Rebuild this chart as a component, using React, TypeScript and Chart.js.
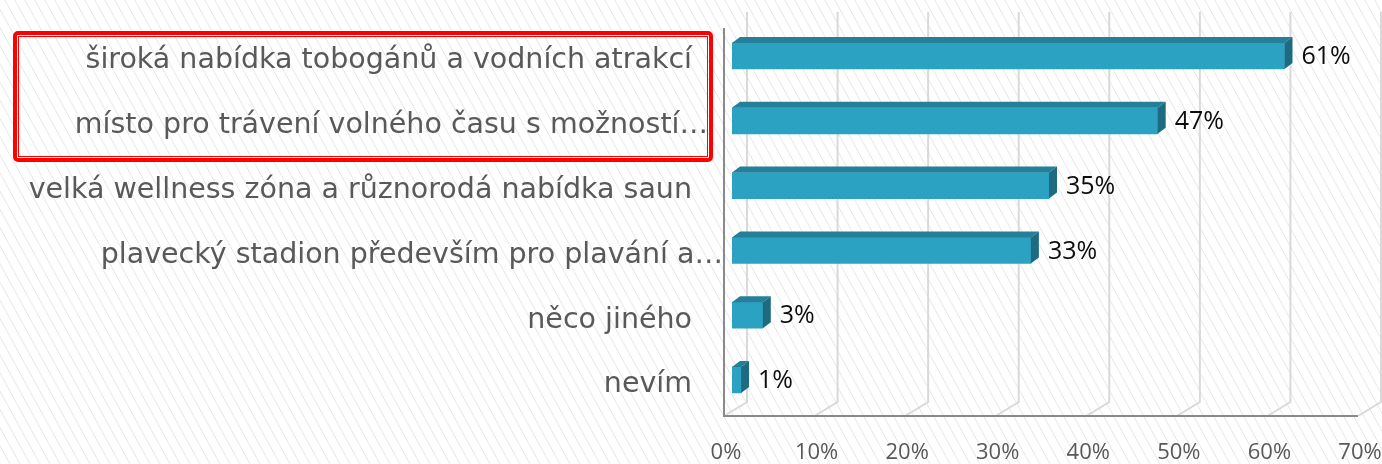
import React, { useEffect, useRef } from "react";
import { Chart, registerables } from "chart.js";

Chart.register(...registerables);

const categories: string[] = [
  "široká nabídka tobogánů a vodních atrakcí",
  "místo pro trávení volného času s možností…",
  "velká wellness zóna a různorodá nabídka saun",
  "plavecký stadion především pro plavání a…",
  "něco jiného",
  "nevím",
];
const values: number[] = [61, 47, 35, 33, 3.4, 1];
const tickValues: number[] = [0, 10, 20, 30, 40, 50, 60, 70];
// horizontal shift of the truncated category labels (Excel overflows them)
const labelShift: number[] = [0, 16, 0, 31, 0, 0];

const FRONT = "#2ca2c2";
const TOP = "#247f98";
const SIDE = "#1e6b81";
const DEPTH_X = 8;
const DEPTH_Y = 6;

const FONT = "'Open Sans', 'DejaVu Sans', sans-serif";
const CAT_FONT = "'DejaVu Sans', sans-serif";

const bg3dPlugin = {
  id: "bg3d",
  beforeDraw(chart: any) {
    const ctx = chart.ctx as CanvasRenderingContext2D;
    const ca = chart.chartArea;
    const xs = chart.scales.x;
    const W = chart.width;
    const H = chart.height;
    ctx.save();
    ctx.fillStyle = "#ffffff";
    ctx.fillRect(0, 0, W, H);
    // hatch
    ctx.strokeStyle = "#e7e7e7";
    ctx.lineWidth = 1;
    const slope = 0.55;
    const step = 10;
    for (let x0 = -H * slope - step; x0 < W + step; x0 += step) {
      ctx.beginPath();
      ctx.moveTo(x0, 0);
      ctx.lineTo(x0 + H * slope, H);
      ctx.stroke();
    }
    // back grid lines + floor diagonals
    const backTop = ca.top - 11.6;
    const backBottom = ca.bottom - 10.4;
    const frontBottom = ca.bottom + 3.6;
    ctx.strokeStyle = "#d9d9d9";
    ctx.lineWidth = 2;
    tickValues.forEach((v) => {
      const p = xs.getPixelForValue(v);
      const back = p + 15;
      const front = p - 8;
      ctx.beginPath();
      ctx.moveTo(back, backTop);
      ctx.lineTo(back, backBottom);
      ctx.lineTo(front, frontBottom);
      ctx.stroke();
    });
    // front axes
    const x0 = xs.getPixelForValue(tickValues[0]) - 8;
    const x1 = xs.getPixelForValue(tickValues[tickValues.length - 1]) - 8;
    ctx.strokeStyle = "#8a8a8a";
    ctx.lineWidth = 2;
    ctx.beginPath();
    ctx.moveTo(x0, ca.top + 4.4);
    ctx.lineTo(x0, frontBottom);
    ctx.lineTo(x1, frontBottom);
    ctx.stroke();
    ctx.restore();
  },
  afterDatasetsDraw(chart: any) {
    const ctx = chart.ctx as CanvasRenderingContext2D;
    const meta = chart.getDatasetMeta(0);
    ctx.save();
    meta.data.forEach((bar: any, i: number) => {
      const { x, y, base, height } = bar.getProps(["x", "y", "base", "height"], true);
      const top = y - height / 2;
      const bottom = y + height / 2;
      // top face
      ctx.fillStyle = TOP;
      ctx.beginPath();
      ctx.moveTo(base, top);
      ctx.lineTo(base + DEPTH_X, top - DEPTH_Y);
      ctx.lineTo(x + DEPTH_X, top - DEPTH_Y);
      ctx.lineTo(x, top);
      ctx.closePath();
      ctx.fill();
      // side face
      ctx.fillStyle = SIDE;
      ctx.beginPath();
      ctx.moveTo(x, top);
      ctx.lineTo(x + DEPTH_X, top - DEPTH_Y);
      ctx.lineTo(x + DEPTH_X, bottom - DEPTH_Y);
      ctx.lineTo(x, bottom);
      ctx.closePath();
      ctx.fill();
      // label
      ctx.fillStyle = "#0d0d0d";
      ctx.font = `25px ${FONT}`;
      ctx.textAlign = "left";
      ctx.textBaseline = "middle";
      ctx.fillText(`${Math.round(values[i])}%`, x + DEPTH_X + 9, y + 1);
    });
    ctx.restore();
  },
  afterDraw(chart: any) {
    const ctx = chart.ctx as CanvasRenderingContext2D;
    const ys = chart.scales.y;
    ctx.save();
    // category labels
    ctx.fillStyle = "#595959";
    ctx.font = `28.5px ${CAT_FONT}`;
    ctx.textAlign = "right";
    ctx.textBaseline = "middle";
    categories.forEach((c, i) => {
      const y = ys.getPixelForValue(i) + 5;
      ctx.fillText(c, ys.right - 40 + labelShift[i], y);
    });
    // highlight box
    ctx.strokeStyle = "#ff0000";
    ctx.lineWidth = 4;
    ctx.beginPath();
    (ctx as any).roundRect(15, 33, 696, 127, 3);
    ctx.stroke();
    ctx.lineWidth = 1;
    ctx.strokeRect(18.5, 36.5, 689, 120);
    ctx.restore();
  },
};

export default function App() {
  const ref = useRef<HTMLCanvasElement>(null);
  useEffect(() => {
    const chart = new Chart(ref.current!, {
      type: "bar",
      data: {
        labels: categories,
        datasets: [
          {
            data: values,
            backgroundColor: FRONT,
            borderWidth: 0,
            barThickness: 26,
          },
        ],
      },
      options: {
        indexAxis: "y",
        animation: false,
        responsive: false,
        maintainAspectRatio: false,
        devicePixelRatio: 1,
        layout: { padding: { top: 23.6, right: 16, left: 0, bottom: 0 } },
        plugins: { legend: { display: false }, tooltip: { enabled: false } },
        scales: {
          x: {
            type: "linear",
            min: 0,
            max: 70,
            grid: { display: false, drawTicks: false },
            border: { display: false },
            ticks: {
              stepSize: 10,
              callback: (v: any) => `${v}%`,
              color: "#595959",
              font: { family: FONT, size: 22 },
              padding: 27,
              labelOffset: -6,
              maxRotation: 0,
            },
            afterFit: (s: any) => {
              s.height = 51.6;
              s.paddingLeft = 0;
              s.paddingRight = 0;
            },
          },
          y: {
            type: "category",
            grid: { display: false, drawTicks: false },
            border: { display: false },
            ticks: { display: false },
            afterFit: (s: any) => {
              s.width = 732;
              s.paddingTop = 0;
              s.paddingBottom = 0;
            },
          },
        },
      },
      plugins: [bg3dPlugin],
    });
    return () => chart.destroy();
  }, []);
  return (
    <div style={{ position: "absolute", left: 0, top: 0, width: 1382, height: 464 }}>
      <canvas ref={ref} width={1382} height={464} />
    </div>
  );
}
